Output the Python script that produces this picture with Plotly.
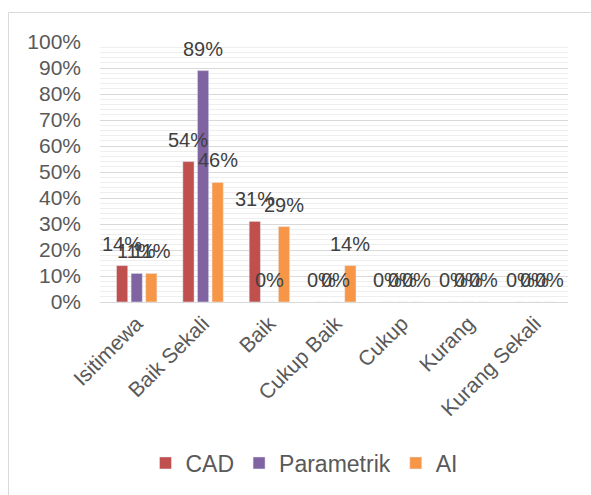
import plotly.graph_objects as go

categories = ["Isitimewa", "Baik Sekali", "Baik", "Cukup Baik", "Cukup", "Kurang", "Kurang Sekali"]
cad = [0.14, 0.54, 0.31, 0.0, 0.0, 0.0, 0.0]
parametrik = [0.11, 0.89, 0.0, 0.0, 0.0, 0.0, 0.0]
ai = [0.11, 0.46, 0.29, 0.14, 0.0, 0.0, 0.0]
y_ticks = [i / 10 for i in range(11)]
y_tick_labels = [f"{i*10}%" for i in range(11)]

series = [("CAD", cad, "#C0504D"), ("Parametrik", parametrik, "#8064A2"), ("AI", ai, "#F79646")]

W, H = 591, 495
ml, mr, mt, mb = 100, 23, 42, 193
pw, ph = W - ml - mr, H - mt - mb
bottom = H - mb  # pixel y of plot bottom
bargap, bargroupgap = 0.34, 0.23

fig = go.Figure()
annotations = []
slot = pw / len(categories) * (1 - bargap) / len(series)
for i, (name, vals, color) in enumerate(series):
    fig.add_trace(go.Bar(x=categories, y=vals, name=name, marker_color=color))
    for c, v in zip(categories, vals):
        annotations.append(dict(
            x=c, y=v, xref="x", yref="y", text=f"{round(v*100)}%", showarrow=False,
            xshift=(i - 1) * slot, yshift=22, yanchor="middle", xanchor="center",
            font=dict(size=20, color="#404040")))

fig.update_layout(
    width=W, height=H,
    margin=dict(l=ml, r=mr, t=mt, b=mb, autoexpand=False),
    paper_bgcolor="white", plot_bgcolor="white",
    font=dict(family="Liberation Sans, Arial", color="#595959", size=20),
    barmode="group", bargap=bargap, bargroupgap=bargroupgap,
    showlegend=True,
    legend=dict(orientation="h", x=(304 - ml) / pw, xanchor="center", y=(bottom - 463) / ph, yanchor="middle",
                font=dict(size=23, color="#595959"), traceorder="normal", itemwidth=30),
    annotations=annotations,
    shapes=[dict(type="rect", xref="paper", yref="paper",
                 x0=(8.5 - ml) / pw, x1=(620 - ml) / pw,
                 y0=(bottom - 520) / ph, y1=(bottom - 12.5) / ph,
                 line=dict(color="#d9d9d9", width=1), layer="below")],
)
fig.update_xaxes(tickangle=-45, showline=True, linecolor="#d9d9d9", ticks="",
                 tickfont=dict(size=21, color="#595959"), automargin=False)
fig.update_yaxes(range=[0, 1], tickvals=y_ticks, ticktext=y_tick_labels,
                 showgrid=True, gridcolor="#d9d9d9", gridwidth=1,
                 minor=dict(dtick=0.02, showgrid=True, gridcolor="#eeeeee", gridwidth=1),
                 zeroline=False, showline=False, ticks="", automargin=False,
                 ticklabelstandoff=18,
                 tickfont=dict(size=21, color="#595959"))

fig.write_html("out.html", config={"displayModeBar": False},
               post_script="document.body.style.margin='0';document.body.style.overflow='hidden';")
